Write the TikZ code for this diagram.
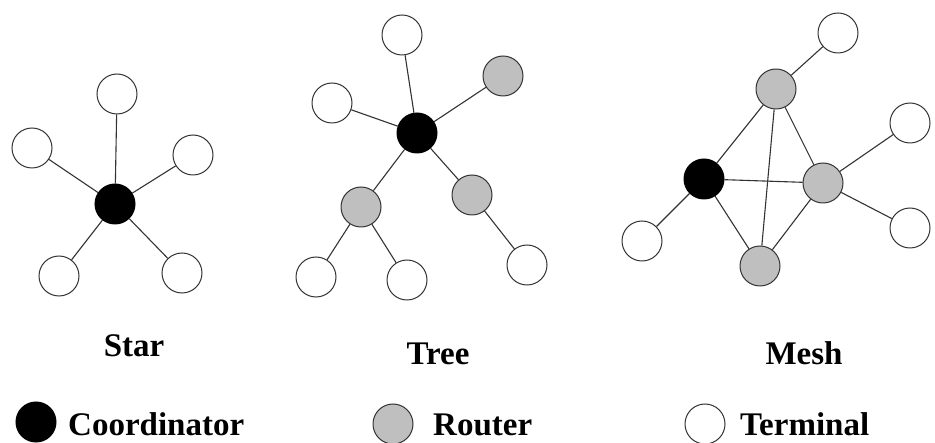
\documentclass[tikz,border=0pt]{standalone}
\usepackage{fontspec}
\setmainfont{Liberation Serif}
\usepackage{tikz}

\tikzset{
    coord/.style={circle, draw=black, fill=black, minimum size=40pt, inner sep=0pt, line width=1pt},
    router/.style={circle, draw=black!80, fill=black!25, minimum size=40pt, inner sep=0pt, line width=1pt},
    term/.style={circle, draw=black!80, fill=white, minimum size=40pt, inner sep=0pt, line width=1pt},
    link/.style={draw=black!80, line width=1.1pt},
    lbl/.style={inner sep=0pt, font=\fontsize{33}{40}\selectfont\bfseries}
}

\begin{document}
\begin{tikzpicture}[x=1pt, y=-1pt]
    \useasboundingbox (0,0) rectangle (935,443);

    % Star
    \node[coord] (sc) at (115,204) {};
    \node[term] (s1) at (117,94) {};
    \node[term] (s2) at (32,148) {};
    \node[term] (s3) at (193,155) {};
    \node[term] (s4) at (59,276) {};
    \node[term] (s5) at (182,273) {};
    \foreach \t in {s1,s2,s3,s4,s5}
        \draw[link] (sc) -- (\t);

    % Tree
    \node[coord] (tc) at (417,133) {};
    \node[term] (t1) at (402,35) {};
    \node[term] (t2) at (332,103) {};
    \node[router] (tr1) at (503,76) {};
    \node[router] (tr2) at (361,207) {};
    \node[router] (tr3) at (472,195) {};
    \node[term] (t3) at (316,277) {};
    \node[term] (t4) at (407,280) {};
    \node[term] (t5) at (527,265) {};
    \foreach \t in {t1,t2,tr1,tr2,tr3}
        \draw[link] (tc) -- (\t);
    \draw[link] (tr2) -- (t3);
    \draw[link] (tr2) -- (t4);
    \draw[link] (tr3) -- (t5);

    % Mesh
    \node[coord] (mc) at (704,179) {};
    \node[router] (mr1) at (776,89) {};
    \node[router] (mr2) at (823,183) {};
    \node[router] (mr3) at (760,266) {};
    \node[term] (m1) at (838,33) {};
    \node[term] (m2) at (910,123) {};
    \node[term] (m3) at (910,228) {};
    \node[term] (m4) at (642,241) {};
    \foreach \t in {mr1,mr2,mr3,m4}
        \draw[link] (mc) -- (\t);
    \draw[link] (mr1) -- (mr2);
    \draw[link] (mr1) -- (mr3);
    \draw[link] (mr2) -- (mr3);
    \draw[link] (mr1) -- (m1);
    \draw[link] (mr2) -- (m2);
    \draw[link] (mr2) -- (m3);

    % Titles
    \node[lbl, anchor=base] (star) at (134,357) {Star};
    \node[lbl, anchor=base] (tree) at (438,365) {Tree};
    \node[lbl, anchor=base] (mesh) at (804,365) {Mesh};

    % Legend
    \node[coord] (kc) at (36,422) {};
    \node[lbl, anchor=base west] (kct) at (68,436) {Coordinator};
    \node[router] (kr) at (393,424) {};
    \node[lbl, anchor=base west] (krt) at (433,436) {Router};
    \node[term] (kt) at (705,424) {};
    \node[lbl, anchor=base west] (ktt) at (740,436) {Terminal};
\end{tikzpicture}
\end{document}
